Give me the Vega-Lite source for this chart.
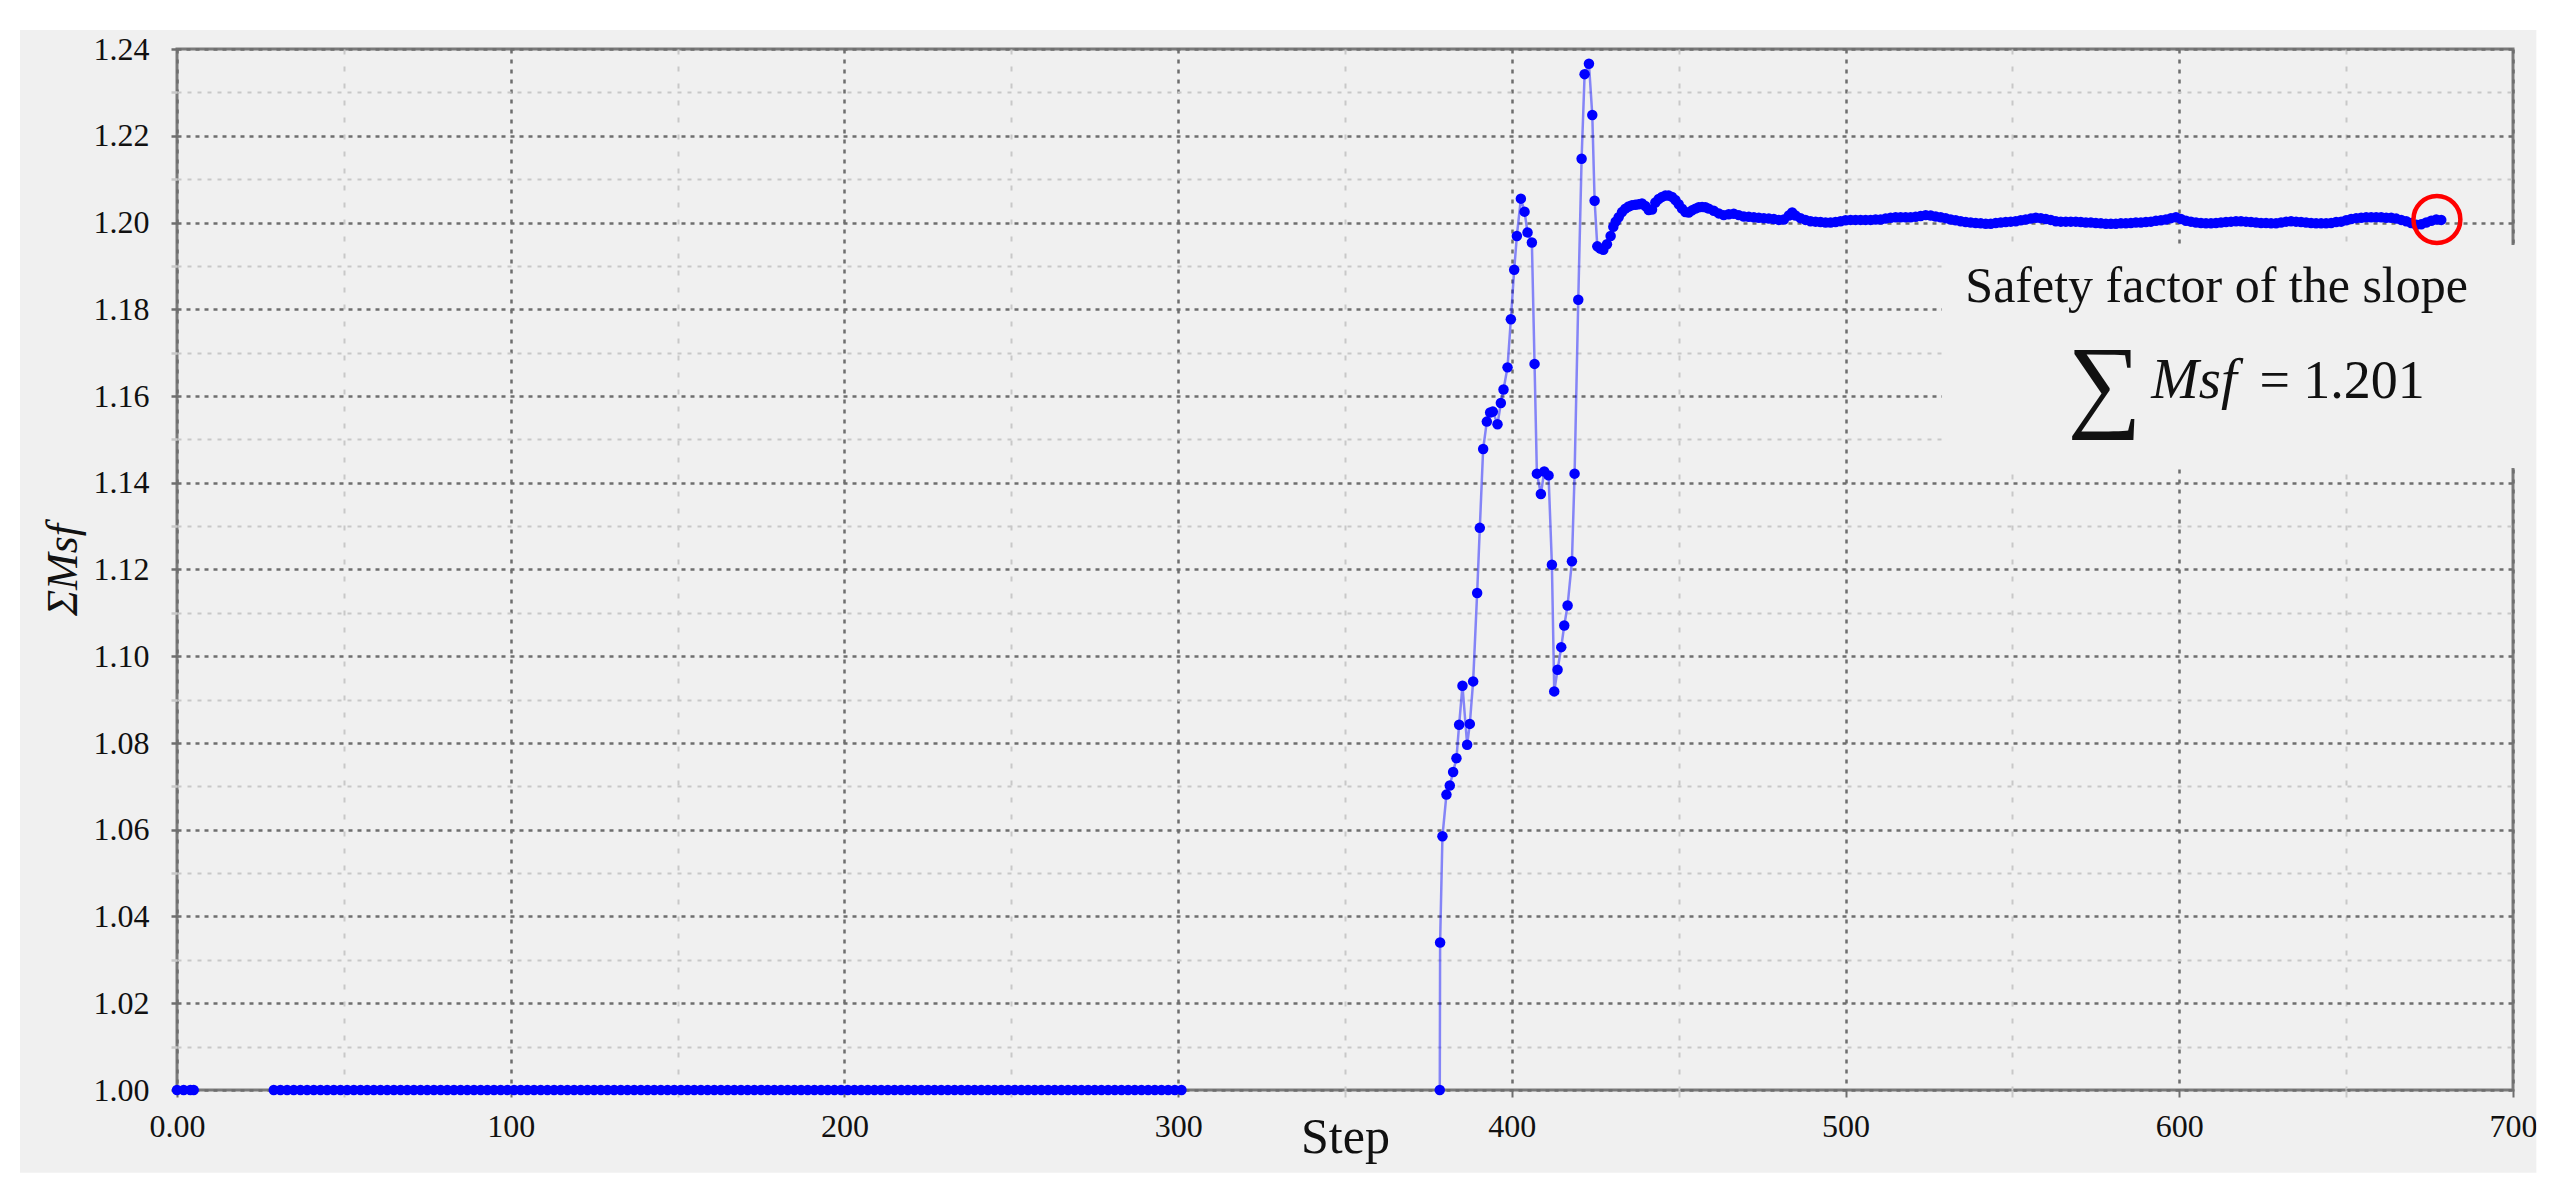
{
  "$schema": "https://vega.github.io/schema/vega-lite/v6.json",
  "width": 2336,
  "height": 1041,
  "autosize": {"type": "none"},
  "padding": {"left": 177, "top": 49, "right": 45, "bottom": 112},
  "background": "#f0f0f0",
  "config": {
    "view": {"stroke": "#7a7a7a", "strokeWidth": 3, "fill": "#f0f0f0"},
    "font": "Liberation Serif"
  },
  "datasets": {
    "anchor": [{"note": "annotation"}],
    "curve": [
      {"step": 0, "msf": 1.0, "seg": "a"},
      {"step": 2, "msf": 1.0, "seg": "a"},
      {"step": 4, "msf": 1.0, "seg": "a"},
      {"step": 5, "msf": 1.0, "seg": "a"},
      {"step": 29, "msf": 1.0, "seg": "b"}, {"step": 31, "msf": 1.0, "seg": "b"}, {"step": 33, "msf": 1.0, "seg": "b"}, {"step": 35, "msf": 1.0, "seg": "b"},
      {"step": 37, "msf": 1.0, "seg": "b"}, {"step": 39, "msf": 1.0, "seg": "b"}, {"step": 41, "msf": 1.0, "seg": "b"}, {"step": 43, "msf": 1.0, "seg": "b"},
      {"step": 45, "msf": 1.0, "seg": "b"}, {"step": 47, "msf": 1.0, "seg": "b"}, {"step": 49, "msf": 1.0, "seg": "b"}, {"step": 51, "msf": 1.0, "seg": "b"},
      {"step": 53, "msf": 1.0, "seg": "b"}, {"step": 55, "msf": 1.0, "seg": "b"}, {"step": 57, "msf": 1.0, "seg": "b"}, {"step": 59, "msf": 1.0, "seg": "b"},
      {"step": 61, "msf": 1.0, "seg": "b"}, {"step": 63, "msf": 1.0, "seg": "b"}, {"step": 65, "msf": 1.0, "seg": "b"}, {"step": 67, "msf": 1.0, "seg": "b"},
      {"step": 69, "msf": 1.0, "seg": "b"}, {"step": 71, "msf": 1.0, "seg": "b"}, {"step": 73, "msf": 1.0, "seg": "b"}, {"step": 75, "msf": 1.0, "seg": "b"},
      {"step": 77, "msf": 1.0, "seg": "b"}, {"step": 79, "msf": 1.0, "seg": "b"}, {"step": 81, "msf": 1.0, "seg": "b"}, {"step": 83, "msf": 1.0, "seg": "b"},
      {"step": 85, "msf": 1.0, "seg": "b"}, {"step": 87, "msf": 1.0, "seg": "b"}, {"step": 89, "msf": 1.0, "seg": "b"}, {"step": 91, "msf": 1.0, "seg": "b"},
      {"step": 93, "msf": 1.0, "seg": "b"}, {"step": 95, "msf": 1.0, "seg": "b"}, {"step": 97, "msf": 1.0, "seg": "b"}, {"step": 99, "msf": 1.0, "seg": "b"},
      {"step": 101, "msf": 1.0, "seg": "b"}, {"step": 103, "msf": 1.0, "seg": "b"}, {"step": 105, "msf": 1.0, "seg": "b"}, {"step": 107, "msf": 1.0, "seg": "b"},
      {"step": 109, "msf": 1.0, "seg": "b"}, {"step": 111, "msf": 1.0, "seg": "b"}, {"step": 113, "msf": 1.0, "seg": "b"}, {"step": 115, "msf": 1.0, "seg": "b"},
      {"step": 117, "msf": 1.0, "seg": "b"}, {"step": 119, "msf": 1.0, "seg": "b"}, {"step": 121, "msf": 1.0, "seg": "b"}, {"step": 123, "msf": 1.0, "seg": "b"},
      {"step": 125, "msf": 1.0, "seg": "b"}, {"step": 127, "msf": 1.0, "seg": "b"}, {"step": 129, "msf": 1.0, "seg": "b"}, {"step": 131, "msf": 1.0, "seg": "b"},
      {"step": 133, "msf": 1.0, "seg": "b"}, {"step": 135, "msf": 1.0, "seg": "b"}, {"step": 137, "msf": 1.0, "seg": "b"}, {"step": 139, "msf": 1.0, "seg": "b"},
      {"step": 141, "msf": 1.0, "seg": "b"}, {"step": 143, "msf": 1.0, "seg": "b"}, {"step": 145, "msf": 1.0, "seg": "b"}, {"step": 147, "msf": 1.0, "seg": "b"},
      {"step": 149, "msf": 1.0, "seg": "b"}, {"step": 151, "msf": 1.0, "seg": "b"}, {"step": 153, "msf": 1.0, "seg": "b"}, {"step": 155, "msf": 1.0, "seg": "b"},
      {"step": 157, "msf": 1.0, "seg": "b"}, {"step": 159, "msf": 1.0, "seg": "b"}, {"step": 161, "msf": 1.0, "seg": "b"}, {"step": 163, "msf": 1.0, "seg": "b"},
      {"step": 165, "msf": 1.0, "seg": "b"}, {"step": 167, "msf": 1.0, "seg": "b"}, {"step": 169, "msf": 1.0, "seg": "b"}, {"step": 171, "msf": 1.0, "seg": "b"},
      {"step": 173, "msf": 1.0, "seg": "b"}, {"step": 175, "msf": 1.0, "seg": "b"}, {"step": 177, "msf": 1.0, "seg": "b"}, {"step": 179, "msf": 1.0, "seg": "b"},
      {"step": 181, "msf": 1.0, "seg": "b"}, {"step": 183, "msf": 1.0, "seg": "b"}, {"step": 185, "msf": 1.0, "seg": "b"}, {"step": 187, "msf": 1.0, "seg": "b"},
      {"step": 189, "msf": 1.0, "seg": "b"}, {"step": 191, "msf": 1.0, "seg": "b"}, {"step": 193, "msf": 1.0, "seg": "b"}, {"step": 195, "msf": 1.0, "seg": "b"},
      {"step": 197, "msf": 1.0, "seg": "b"}, {"step": 199, "msf": 1.0, "seg": "b"}, {"step": 201, "msf": 1.0, "seg": "b"}, {"step": 203, "msf": 1.0, "seg": "b"},
      {"step": 205, "msf": 1.0, "seg": "b"}, {"step": 207, "msf": 1.0, "seg": "b"}, {"step": 209, "msf": 1.0, "seg": "b"}, {"step": 211, "msf": 1.0, "seg": "b"},
      {"step": 213, "msf": 1.0, "seg": "b"}, {"step": 215, "msf": 1.0, "seg": "b"}, {"step": 217, "msf": 1.0, "seg": "b"}, {"step": 219, "msf": 1.0, "seg": "b"},
      {"step": 221, "msf": 1.0, "seg": "b"}, {"step": 223, "msf": 1.0, "seg": "b"}, {"step": 225, "msf": 1.0, "seg": "b"}, {"step": 227, "msf": 1.0, "seg": "b"},
      {"step": 229, "msf": 1.0, "seg": "b"}, {"step": 231, "msf": 1.0, "seg": "b"}, {"step": 233, "msf": 1.0, "seg": "b"}, {"step": 235, "msf": 1.0, "seg": "b"},
      {"step": 237, "msf": 1.0, "seg": "b"}, {"step": 239, "msf": 1.0, "seg": "b"}, {"step": 241, "msf": 1.0, "seg": "b"}, {"step": 243, "msf": 1.0, "seg": "b"},
      {"step": 245, "msf": 1.0, "seg": "b"}, {"step": 247, "msf": 1.0, "seg": "b"}, {"step": 249, "msf": 1.0, "seg": "b"}, {"step": 251, "msf": 1.0, "seg": "b"},
      {"step": 253, "msf": 1.0, "seg": "b"}, {"step": 255, "msf": 1.0, "seg": "b"}, {"step": 257, "msf": 1.0, "seg": "b"}, {"step": 259, "msf": 1.0, "seg": "b"},
      {"step": 261, "msf": 1.0, "seg": "b"}, {"step": 263, "msf": 1.0, "seg": "b"}, {"step": 265, "msf": 1.0, "seg": "b"}, {"step": 267, "msf": 1.0, "seg": "b"},
      {"step": 269, "msf": 1.0, "seg": "b"}, {"step": 271, "msf": 1.0, "seg": "b"}, {"step": 273, "msf": 1.0, "seg": "b"}, {"step": 275, "msf": 1.0, "seg": "b"},
      {"step": 277, "msf": 1.0, "seg": "b"}, {"step": 279, "msf": 1.0, "seg": "b"}, {"step": 281, "msf": 1.0, "seg": "b"}, {"step": 283, "msf": 1.0, "seg": "b"},
      {"step": 285, "msf": 1.0, "seg": "b"}, {"step": 287, "msf": 1.0, "seg": "b"}, {"step": 289, "msf": 1.0, "seg": "b"}, {"step": 291, "msf": 1.0, "seg": "b"},
      {"step": 293, "msf": 1.0, "seg": "b"}, {"step": 295, "msf": 1.0, "seg": "b"}, {"step": 297, "msf": 1.0, "seg": "b"}, {"step": 299, "msf": 1.0, "seg": "b"},
      {"step": 301, "msf": 1.0, "seg": "b"},
      {"step": 378.4, "msf": 1.0, "seg": "c"},
      {"step": 378.5, "msf": 1.034, "seg": "c"},
      {"step": 379.2, "msf": 1.0585, "seg": "c"},
      {"step": 380.4, "msf": 1.0681, "seg": "c"},
      {"step": 381.4, "msf": 1.0702, "seg": "c"},
      {"step": 382.4, "msf": 1.0733, "seg": "c"},
      {"step": 383.4, "msf": 1.0765, "seg": "c"},
      {"step": 384.2, "msf": 1.0842, "seg": "c"},
      {"step": 385.2, "msf": 1.0932, "seg": "c"},
      {"step": 386.6, "msf": 1.0796, "seg": "c"},
      {"step": 387.4, "msf": 1.0844, "seg": "c"},
      {"step": 388.4, "msf": 1.0942, "seg": "c"},
      {"step": 389.6, "msf": 1.1146, "seg": "c"},
      {"step": 390.4, "msf": 1.1296, "seg": "c"},
      {"step": 391.4, "msf": 1.1478, "seg": "c"},
      {"step": 392.5, "msf": 1.1541, "seg": "c"},
      {"step": 393.5, "msf": 1.1562, "seg": "c"},
      {"step": 394.3, "msf": 1.1564, "seg": "c"},
      {"step": 395.7, "msf": 1.1535, "seg": "c"},
      {"step": 396.7, "msf": 1.1584, "seg": "c"},
      {"step": 397.5, "msf": 1.1615, "seg": "c"},
      {"step": 398.7, "msf": 1.1666, "seg": "c"},
      {"step": 399.7, "msf": 1.1777, "seg": "c"},
      {"step": 400.7, "msf": 1.1891, "seg": "c"},
      {"step": 401.5, "msf": 1.1969, "seg": "c"},
      {"step": 402.7, "msf": 1.2055, "seg": "c"},
      {"step": 403.8, "msf": 1.2025, "seg": "c"},
      {"step": 404.7, "msf": 1.1977, "seg": "c"},
      {"step": 406.0, "msf": 1.1954, "seg": "c"},
      {"step": 406.8, "msf": 1.1674, "seg": "c"},
      {"step": 407.5, "msf": 1.1421, "seg": "c"},
      {"step": 408.7, "msf": 1.1374, "seg": "c"},
      {"step": 409.7, "msf": 1.1426, "seg": "c"},
      {"step": 411.0, "msf": 1.1417, "seg": "c"},
      {"step": 412.0, "msf": 1.1211, "seg": "c"},
      {"step": 412.7, "msf": 1.0919, "seg": "c"},
      {"step": 413.7, "msf": 1.0969, "seg": "c"},
      {"step": 414.8, "msf": 1.1021, "seg": "c"},
      {"step": 415.7, "msf": 1.1071, "seg": "c"},
      {"step": 416.7, "msf": 1.1117, "seg": "c"},
      {"step": 418.0, "msf": 1.1219, "seg": "c"},
      {"step": 418.8, "msf": 1.1421, "seg": "c"},
      {"step": 419.9, "msf": 1.1822, "seg": "c"},
      {"step": 420.9, "msf": 1.2147, "seg": "c"},
      {"step": 421.8, "msf": 1.2342, "seg": "c"},
      {"step": 423.1, "msf": 1.2366, "seg": "c"},
      {"step": 424.1, "msf": 1.2248, "seg": "c"},
      {"step": 424.8, "msf": 1.2050, "seg": "c"},
      {"step": 425.6, "msf": 1.1945, "seg": "c"},
      {"step": 426.5, "msf": 1.1940, "seg": "c"},
      {"step": 427.4, "msf": 1.1937, "seg": "c"},
      {"step": 428.5, "msf": 1.1950, "seg": "c"},
      {"step": 429.6, "msf": 1.1969, "seg": "c"},
      {"step": 430.4, "msf": 1.1990, "seg": "c"},
      {"step": 431.1, "msf": 1.2002, "seg": "c"},
      {"step": 432.0, "msf": 1.2012, "seg": "c"},
      {"step": 433.0, "msf": 1.2024, "seg": "c"},
      {"step": 434.0, "msf": 1.2032, "seg": "c"},
      {"step": 435.0, "msf": 1.2037, "seg": "c"},
      {"step": 436.0, "msf": 1.2040, "seg": "c"},
      {"step": 437.0, "msf": 1.2041, "seg": "c"},
      {"step": 438.0, "msf": 1.2042, "seg": "c"},
      {"step": 439.0, "msf": 1.2044, "seg": "c"},
      {"step": 440.0, "msf": 1.2038, "seg": "c"},
      {"step": 441.0, "msf": 1.2029, "seg": "c"},
      {"step": 442.0, "msf": 1.2030, "seg": "c"},
      {"step": 443.0, "msf": 1.2046, "seg": "c"},
      {"step": 444.0, "msf": 1.2054, "seg": "c"},
      {"step": 445.0, "msf": 1.2059, "seg": "c"},
      {"step": 446.0, "msf": 1.2062, "seg": "c"},
      {"step": 447.0, "msf": 1.2062, "seg": "c"},
      {"step": 448.0, "msf": 1.2059, "seg": "c"},
      {"step": 449.0, "msf": 1.2052, "seg": "c"},
      {"step": 450.0, "msf": 1.2042, "seg": "c"},
      {"step": 451.0, "msf": 1.2032, "seg": "c"},
      {"step": 452.0, "msf": 1.2024, "seg": "c"},
      {"step": 453.0, "msf": 1.2023, "seg": "c"},
      {"step": 454.0, "msf": 1.2028, "seg": "c"},
      {"step": 455.0, "msf": 1.2032, "seg": "c"},
      {"step": 456.0, "msf": 1.2035, "seg": "c"},
      {"step": 457.0, "msf": 1.2036, "seg": "c"},
      {"step": 458.0, "msf": 1.2035, "seg": "c"},
      {"step": 459.0, "msf": 1.2032, "seg": "c"},
      {"step": 460.5, "msf": 1.2027, "seg": "c"},
      {"step": 462.0, "msf": 1.2021, "seg": "c"},
      {"step": 463.5, "msf": 1.2017, "seg": "c"},
      {"step": 465.0, "msf": 1.2019, "seg": "c"},
      {"step": 466.5, "msf": 1.2020, "seg": "c"},
      {"step": 468.0, "msf": 1.2017, "seg": "c"},
      {"step": 469.5, "msf": 1.2014, "seg": "c"},
      {"step": 471.0, "msf": 1.2013, "seg": "c"},
      {"step": 472.5, "msf": 1.2012, "seg": "c"},
      {"step": 474.0, "msf": 1.2011, "seg": "c"},
      {"step": 475.5, "msf": 1.2010, "seg": "c"},
      {"step": 477.0, "msf": 1.2009, "seg": "c"},
      {"step": 478.5, "msf": 1.2008, "seg": "c"},
      {"step": 480.0, "msf": 1.2006, "seg": "c"},
      {"step": 481.5, "msf": 1.2007, "seg": "c"},
      {"step": 483.0, "msf": 1.2016, "seg": "c"},
      {"step": 484.0, "msf": 1.2023, "seg": "c"},
      {"step": 485.0, "msf": 1.2016, "seg": "c"},
      {"step": 486.5, "msf": 1.2010, "seg": "c"},
      {"step": 488.0, "msf": 1.2006, "seg": "c"},
      {"step": 489.5, "msf": 1.2003, "seg": "c"},
      {"step": 491.0, "msf": 1.2002, "seg": "c"},
      {"step": 492.5, "msf": 1.2001, "seg": "c"},
      {"step": 494.0, "msf": 1.2000, "seg": "c"},
      {"step": 495.5, "msf": 1.2000, "seg": "c"},
      {"step": 497.0, "msf": 1.2001, "seg": "c"},
      {"step": 498.5, "msf": 1.2003, "seg": "c"},
      {"step": 500.0, "msf": 1.2005, "seg": "c"},
      {"step": 501.5, "msf": 1.2006, "seg": "c"},
      {"step": 503.0, "msf": 1.2006, "seg": "c"},
      {"step": 504.5, "msf": 1.2006, "seg": "c"},
      {"step": 506.0, "msf": 1.2006, "seg": "c"},
      {"step": 507.5, "msf": 1.2006, "seg": "c"},
      {"step": 509.0, "msf": 1.2007, "seg": "c"},
      {"step": 510.5, "msf": 1.2007, "seg": "c"},
      {"step": 512.0, "msf": 1.2009, "seg": "c"},
      {"step": 513.5, "msf": 1.2011, "seg": "c"},
      {"step": 515.0, "msf": 1.2012, "seg": "c"},
      {"step": 516.5, "msf": 1.2012, "seg": "c"},
      {"step": 518.0, "msf": 1.2012, "seg": "c"},
      {"step": 519.5, "msf": 1.2012, "seg": "c"},
      {"step": 521.0, "msf": 1.2013, "seg": "c"},
      {"step": 522.5, "msf": 1.2015, "seg": "c"},
      {"step": 524.0, "msf": 1.2017, "seg": "c"},
      {"step": 525.5, "msf": 1.2016, "seg": "c"},
      {"step": 527.0, "msf": 1.2014, "seg": "c"},
      {"step": 528.5, "msf": 1.2012, "seg": "c"},
      {"step": 530.0, "msf": 1.2010, "seg": "c"},
      {"step": 531.5, "msf": 1.2007, "seg": "c"},
      {"step": 533.0, "msf": 1.2005, "seg": "c"},
      {"step": 534.5, "msf": 1.2003, "seg": "c"},
      {"step": 536.0, "msf": 1.2001, "seg": "c"},
      {"step": 537.5, "msf": 1.2000, "seg": "c"},
      {"step": 539.0, "msf": 1.1999, "seg": "c"},
      {"step": 540.5, "msf": 1.1998, "seg": "c"},
      {"step": 542.0, "msf": 1.1997, "seg": "c"},
      {"step": 543.5, "msf": 1.1997, "seg": "c"},
      {"step": 545.0, "msf": 1.1999, "seg": "c"},
      {"step": 546.5, "msf": 1.2000, "seg": "c"},
      {"step": 548.0, "msf": 1.2001, "seg": "c"},
      {"step": 549.5, "msf": 1.2002, "seg": "c"},
      {"step": 551.0, "msf": 1.2003, "seg": "c"},
      {"step": 552.5, "msf": 1.2005, "seg": "c"},
      {"step": 554.0, "msf": 1.2007, "seg": "c"},
      {"step": 555.5, "msf": 1.2009, "seg": "c"},
      {"step": 557.0, "msf": 1.2011, "seg": "c"},
      {"step": 558.5, "msf": 1.2010, "seg": "c"},
      {"step": 560.0, "msf": 1.2008, "seg": "c"},
      {"step": 561.5, "msf": 1.2006, "seg": "c"},
      {"step": 563.0, "msf": 1.2003, "seg": "c"},
      {"step": 564.5, "msf": 1.2002, "seg": "c"},
      {"step": 566.0, "msf": 1.2002, "seg": "c"},
      {"step": 567.5, "msf": 1.2002, "seg": "c"},
      {"step": 569.0, "msf": 1.2002, "seg": "c"},
      {"step": 570.5, "msf": 1.2001, "seg": "c"},
      {"step": 572.0, "msf": 1.2000, "seg": "c"},
      {"step": 573.5, "msf": 1.2000, "seg": "c"},
      {"step": 575.0, "msf": 1.1999, "seg": "c"},
      {"step": 576.5, "msf": 1.1998, "seg": "c"},
      {"step": 578.0, "msf": 1.1997, "seg": "c"},
      {"step": 579.5, "msf": 1.1997, "seg": "c"},
      {"step": 581.0, "msf": 1.1997, "seg": "c"},
      {"step": 582.5, "msf": 1.1998, "seg": "c"},
      {"step": 584.0, "msf": 1.1998, "seg": "c"},
      {"step": 585.5, "msf": 1.1999, "seg": "c"},
      {"step": 587.0, "msf": 1.2000, "seg": "c"},
      {"step": 588.5, "msf": 1.2000, "seg": "c"},
      {"step": 590.0, "msf": 1.2001, "seg": "c"},
      {"step": 591.5, "msf": 1.2002, "seg": "c"},
      {"step": 593.0, "msf": 1.2004, "seg": "c"},
      {"step": 594.5, "msf": 1.2005, "seg": "c"},
      {"step": 596.0, "msf": 1.2007, "seg": "c"},
      {"step": 597.5, "msf": 1.2010, "seg": "c"},
      {"step": 599.0, "msf": 1.2012, "seg": "c"},
      {"step": 600.5, "msf": 1.2008, "seg": "c"},
      {"step": 602.0, "msf": 1.2004, "seg": "c"},
      {"step": 603.5, "msf": 1.2002, "seg": "c"},
      {"step": 605.0, "msf": 1.2000, "seg": "c"},
      {"step": 606.5, "msf": 1.1999, "seg": "c"},
      {"step": 608.0, "msf": 1.1998, "seg": "c"},
      {"step": 609.5, "msf": 1.1998, "seg": "c"},
      {"step": 611.0, "msf": 1.1999, "seg": "c"},
      {"step": 612.5, "msf": 1.2000, "seg": "c"},
      {"step": 614.0, "msf": 1.2001, "seg": "c"},
      {"step": 615.5, "msf": 1.2002, "seg": "c"},
      {"step": 617.0, "msf": 1.2003, "seg": "c"},
      {"step": 618.5, "msf": 1.2003, "seg": "c"},
      {"step": 620.0, "msf": 1.2002, "seg": "c"},
      {"step": 621.5, "msf": 1.2001, "seg": "c"},
      {"step": 623.0, "msf": 1.2000, "seg": "c"},
      {"step": 624.5, "msf": 1.1999, "seg": "c"},
      {"step": 626.0, "msf": 1.1999, "seg": "c"},
      {"step": 627.5, "msf": 1.1998, "seg": "c"},
      {"step": 629.0, "msf": 1.1998, "seg": "c"},
      {"step": 630.5, "msf": 1.2000, "seg": "c"},
      {"step": 632.0, "msf": 1.2002, "seg": "c"},
      {"step": 633.5, "msf": 1.2003, "seg": "c"},
      {"step": 635.0, "msf": 1.2002, "seg": "c"},
      {"step": 636.5, "msf": 1.2001, "seg": "c"},
      {"step": 638.0, "msf": 1.2000, "seg": "c"},
      {"step": 639.5, "msf": 1.1999, "seg": "c"},
      {"step": 641.0, "msf": 1.1998, "seg": "c"},
      {"step": 642.5, "msf": 1.1998, "seg": "c"},
      {"step": 644.0, "msf": 1.1998, "seg": "c"},
      {"step": 645.5, "msf": 1.1999, "seg": "c"},
      {"step": 647.0, "msf": 1.2001, "seg": "c"},
      {"step": 648.5, "msf": 1.2002, "seg": "c"},
      {"step": 650.0, "msf": 1.2005, "seg": "c"},
      {"step": 651.5, "msf": 1.2008, "seg": "c"},
      {"step": 653.0, "msf": 1.2010, "seg": "c"},
      {"step": 654.5, "msf": 1.2011, "seg": "c"},
      {"step": 656.0, "msf": 1.2012, "seg": "c"},
      {"step": 657.5, "msf": 1.2012, "seg": "c"},
      {"step": 659.0, "msf": 1.2012, "seg": "c"},
      {"step": 660.5, "msf": 1.2012, "seg": "c"},
      {"step": 662.0, "msf": 1.2011, "seg": "c"},
      {"step": 663.5, "msf": 1.2011, "seg": "c"},
      {"step": 665.0, "msf": 1.2009, "seg": "c"},
      {"step": 666.5, "msf": 1.2006, "seg": "c"},
      {"step": 668.0, "msf": 1.2003, "seg": "c"},
      {"step": 669.5, "msf": 1.1999, "seg": "c"},
      {"step": 671.0, "msf": 1.1995, "seg": "c"},
      {"step": 672.5, "msf": 1.1996, "seg": "c"},
      {"step": 674.0, "msf": 1.2000, "seg": "c"},
      {"step": 675.5, "msf": 1.2004, "seg": "c"},
      {"step": 677.0, "msf": 1.2007, "seg": "c"},
      {"step": 678.5, "msf": 1.2006, "seg": "c"}
    ]
  },
  "layer": [
    {
      "data": {"name": "anchor"},
      "mark": {"type": "rect", "color": "#ffffff"},
      "encoding": {
        "x": {"datum": -60, "type": "quantitative"}, "x2": {"datum": 720},
        "y": {"datum": 1.2444, "type": "quantitative"}, "y2": {"datum": 1.27}
      }
    },
    {
      "data": {"name": "anchor"},
      "mark": {"type": "rect", "color": "#ffffff"},
      "encoding": {
        "x": {"datum": -60, "type": "quantitative"}, "x2": {"datum": 720},
        "y": {"datum": 0.9809, "type": "quantitative"}, "y2": {"datum": 0.96}
      }
    },
    {
      "data": {"name": "anchor"},
      "mark": {"type": "rect", "color": "#ffffff"},
      "encoding": {
        "x": {"datum": -60, "type": "quantitative"}, "x2": {"datum": -47.05},
        "y": {"datum": 0.96, "type": "quantitative"}, "y2": {"datum": 1.27}
      }
    },
    {
      "data": {"name": "anchor"},
      "mark": {"type": "rect", "color": "#ffffff"},
      "encoding": {
        "x": {"datum": 707.0, "type": "quantitative"}, "x2": {"datum": 720},
        "y": {"datum": 0.96, "type": "quantitative"}, "y2": {"datum": 1.27}
      }
    },
    {
      "data": {"name": "curve"},
      "mark": {"type": "line", "color": "#0000ff", "opacity": 0.45, "strokeWidth": 2.5},
      "encoding": {
        "x": {
          "field": "step", "type": "quantitative",
          "scale": {"domain": [0, 700], "nice": false, "zero": false},
          "axis": {
            "values": [0, 50, 100, 150, 200, 250, 300, 350, 400, 450, 500, 550, 600, 650, 700],
            "labelExpr": "datum.value == 0 ? '0.00' : (datum.value % 100 == 0 ? format(datum.value, 'd') : '')",
            "labelFont": "Liberation Serif", "labelFontSize": 32, "labelColor": "#111111",
            "labelPadding": 14, "labelOverlap": false, "labelFlush": false, "labelBound": false,
            "domain": false,
            "ticks": true, "tickSize": 7, "tickWidth": 2,
            "tickColor": {"condition": {"test": "datum.value % 100 == 0", "value": "#6e6e6e"}, "value": "#c8c8c8"},
            "grid": true,
            "gridColor": {"condition": {"test": "datum.value % 100 == 0", "value": "#6e6e6e"}, "value": "#c8c8c8"},
            "gridWidth": {"condition": {"test": "datum.value % 100 == 0", "value": 2.5}, "value": 2},
            "gridDash": {"condition": {"test": "datum.value % 100 == 0", "value": [4, 6]}, "value": [5, 12]},
            "title": "Step", "titleFont": "Liberation Serif", "titleFontSize": 50, "titleFontWeight": "normal",
            "titleColor": "#111111", "titlePadding": -30
          }
        },
        "y": {
          "field": "msf", "type": "quantitative",
          "scale": {"domain": [1.0, 1.24], "nice": false, "zero": false},
          "axis": {
            "values": [1.0, 1.01, 1.02, 1.03, 1.04, 1.05, 1.06, 1.07, 1.08, 1.09, 1.1, 1.11, 1.12, 1.13, 1.14, 1.15, 1.16, 1.17, 1.18, 1.19, 1.2, 1.21, 1.22, 1.23, 1.24],
            "labelExpr": "round(datum.value * 100) % 2 == 0 ? format(datum.value, '.2f') : ''",
            "labelFont": "Liberation Serif", "labelFontSize": 32, "labelColor": "#111111",
            "labelPadding": 22, "labelOverlap": false, "labelFlush": false, "labelBound": false,
            "domain": false,
            "ticks": true, "tickSize": 6, "tickWidth": 2.5,
            "tickColor": {"condition": {"test": "round(datum.value * 100) % 2 == 0", "value": "#6e6e6e"}, "value": "#c8c8c8"},
            "grid": true,
            "gridColor": {"condition": {"test": "round(datum.value * 100) % 2 == 0", "value": "#6e6e6e"}, "value": "#c8c8c8"},
            "gridWidth": {"condition": {"test": "round(datum.value * 100) % 2 == 0", "value": 2.5}, "value": 2},
            "gridDash": {"condition": {"test": "round(datum.value * 100) % 2 == 0", "value": [4, 5]}, "value": [4, 6]},
            "title": "ΣMsf", "titleFont": "Liberation Serif", "titleFontSize": 44, "titleFontWeight": "normal",
            "titleFontStyle": "italic", "titleColor": "#111111", "titlePadding": 8
          }
        },
        "detail": {"field": "seg", "type": "nominal"}
      }
    },
    {
      "data": {"name": "curve"},
      "mark": {"type": "point", "shape": "circle", "filled": true, "color": "#0000ff", "opacity": 1, "size": 110},
      "encoding": {
        "x": {"field": "step", "type": "quantitative"},
        "y": {"field": "msf", "type": "quantitative"}
      }
    },
    {
      "data": {"name": "anchor"},
      "mark": {"type": "rect", "color": "#f0f0f0"},
      "encoding": {
        "x": {"datum": 528.9, "type": "quantitative"}, "x2": {"datum": 706.6},
        "y": {"datum": 1.1434, "type": "quantitative"}, "y2": {"datum": 1.1948}
      }
    },
    {
      "data": {"name": "anchor"},
      "mark": {"type": "text", "text": "Safety factor of the slope", "font": "Liberation Serif", "fontSize": 50, "color": "#111111", "align": "center", "baseline": "alphabetic"},
      "encoding": {
        "x": {"datum": 611.2, "type": "quantitative"},
        "y": {"datum": 1.1817, "type": "quantitative"}
      }
    },
    {
      "data": {"name": "anchor"},
      "mark": {"type": "text", "text": "∑", "font": "Liberation Serif", "fontSize": 104, "color": "#111111", "align": "center", "baseline": "middle"},
      "encoding": {
        "x": {"datum": 577.5, "type": "quantitative"},
        "y": {"datum": 1.1620, "type": "quantitative"}
      }
    },
    {
      "data": {"name": "anchor"},
      "mark": {"type": "text", "text": "Msf", "font": "Liberation Serif", "fontStyle": "italic", "fontSize": 57, "color": "#111111", "align": "left", "baseline": "alphabetic"},
      "encoding": {
        "x": {"datum": 591.6, "type": "quantitative"},
        "y": {"datum": 1.1595, "type": "quantitative"}
      }
    },
    {
      "data": {"name": "anchor"},
      "mark": {"type": "text", "text": "= 1.201", "font": "Liberation Serif", "fontSize": 54, "color": "#111111", "align": "left", "baseline": "alphabetic"},
      "encoding": {
        "x": {"datum": 624.0, "type": "quantitative"},
        "y": {"datum": 1.1595, "type": "quantitative"}
      }
    },
    {
      "data": {"name": "anchor"},
      "mark": {"type": "point", "shape": "circle", "filled": false, "color": "#ff0000", "strokeWidth": 4.5, "size": 2200, "opacity": 1},
      "encoding": {
        "x": {"datum": 677.2, "type": "quantitative"},
        "y": {"datum": 1.2007, "type": "quantitative"}
      }
    }
  ]
}
